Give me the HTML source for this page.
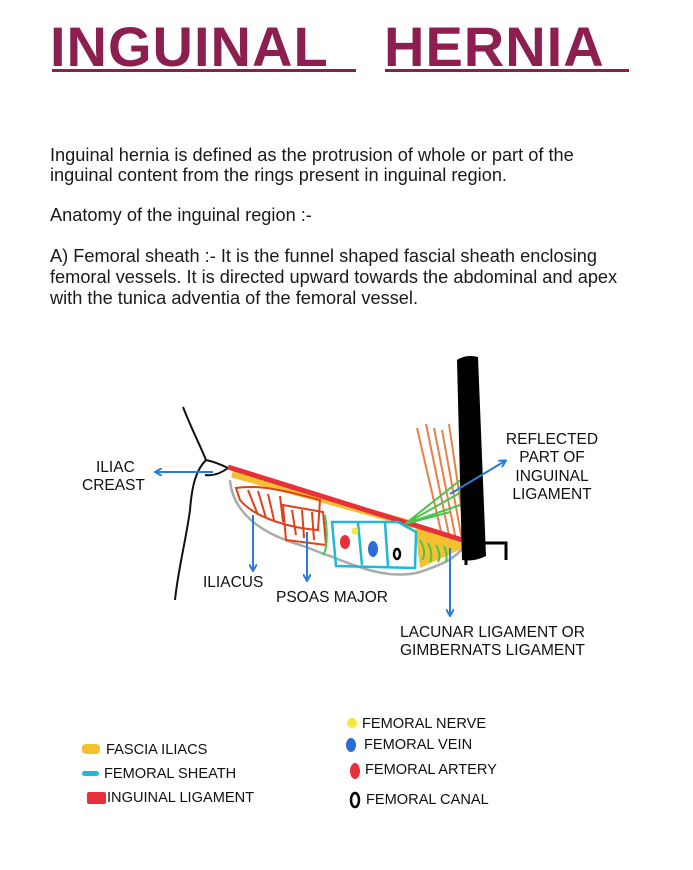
<!DOCTYPE html>
<html><head><meta charset="utf-8"><style>
body{margin:0;width:693px;height:870px;background:#fff;position:relative;font-family:"Liberation Sans",sans-serif;overflow:hidden}
.t{position:absolute;color:#111;white-space:nowrap}
.title{position:absolute;top:14px;font-weight:bold;font-size:56px;color:#8c1f4f;letter-spacing:1px}
.ul{position:absolute;top:69px;height:3px;background:#8c1f4f}
.p{font-size:18.2px;color:#1a1a1a;left:50px}
.s{font-size:15.5px}
.l{font-size:14.6px}
</style></head><body>
<div class="title" style="left:50px">INGUINAL</div>
<div class="title" style="left:384px">HERNIA</div>
<div class="ul" style="left:52px;width:304px"></div>
<div class="ul" style="left:385px;width:244px"></div>

<div class="t p" style="top:145px">Inguinal hernia is defined as the protrusion of whole or part of the</div>
<div class="t p" style="top:165px">inguinal content from the rings present in inguinal region.</div>
<div class="t p" style="top:205px">Anatomy of the inguinal region :-</div>
<div class="t p" style="top:246px">A) Femoral sheath :- It is the funnel shaped fascial sheath enclosing</div>
<div class="t p" style="top:267px">femoral vessels. It is directed upward towards the abdominal and apex</div>
<div class="t p" style="top:288px">with the tunica adventia of the femoral vessel.</div>

<svg style="position:absolute;left:0;top:0" width="693" height="870">
<defs><marker id="a" markerWidth="8" markerHeight="8" refX="6" refY="4" orient="auto" markerUnits="userSpaceOnUse"><path d="M0,0 L7,4 L0,8" fill="none" stroke="#2b7bd6" stroke-width="2"/></marker></defs>
<path d="M183,407 C192,430 200,445 206,460 C196,470 192,485 190,510 C186,540 178,570 175,600" fill="none" stroke="#111" stroke-width="2"/>
<path d="M206,460 C215,462 222,465 228,468 C220,474 212,476 205,475" fill="none" stroke="#111" stroke-width="2"/>
<g stroke="#e8804a" stroke-width="2">
<line x1="417" y1="428" x2="443" y2="540"/><line x1="426" y1="424" x2="450" y2="540"/><line x1="434" y1="428" x2="456" y2="540"/><line x1="442" y1="430" x2="462" y2="540"/><line x1="449" y1="424" x2="466" y2="540"/></g>
<path d="M230,480 C232,505 250,530 300,545 C315,550 320,553 330,556 C360,568 390,580 420,572 C440,565 455,560 465,545" fill="none" stroke="#aaa" stroke-width="2.5"/>
<path d="M230,470 L470,545 L420,568 L415,527 Z" fill="#f4c030"/>
<path d="M232,474 L415,525" stroke="#f4c030" stroke-width="7"/>
<line x1="228" y1="467" x2="472" y2="543" stroke="#e8303a" stroke-width="5"/>
<g fill="none" stroke="#e0401a" stroke-width="2">
<path d="M236,488 C260,484 290,492 320,500 L318,530 C290,528 255,518 240,500 Z"/>
<path d="M283,505 L323,512 L326,545 L286,540 Z"/>
<path d="M248,490 L258,515 M258,491 L266,518 M268,494 L274,520 M280,496 L283,522 M292,510 L296,535 M302,510 L304,538 M312,512 L314,540"/></g>
<g fill="none" stroke="#1fb8d8" stroke-width="2.5">
<path d="M332,522 L398,522 L416,532 L415,568 L336,566 Z"/>
<line x1="358" y1="523" x2="362" y2="565"/><line x1="385" y1="523" x2="388" y2="566"/></g>
<ellipse cx="345" cy="542" rx="5" ry="7" fill="#e8303a"/>
<circle cx="355" cy="531" r="3.5" fill="#f5e83a"/>
<ellipse cx="373" cy="549" rx="5" ry="8" fill="#2b6cd6"/>
<ellipse cx="397" cy="554" rx="3" ry="5" fill="none" stroke="#000" stroke-width="2.5"/>
<g fill="none" stroke="#4cc44c" stroke-width="2">
<path d="M405,524 L463,478 M405,524 L465,490 M405,524 L466,503 M405,524 L450,512"/>
<path d="M325,515 C328,535 327,550 323,555"/>
<path d="M420,540 C425,548 425,556 422,560 M428,543 C432,550 432,558 430,562 M436,545 C440,552 440,558 438,562 M444,546 C447,552 447,558 446,562"/></g>
<path d="M457,360 Q466,354 478,357 L486,556 Q474,562 462,560 Z" fill="#000"/>
<path d="M484,543 L506,543 L506,560" fill="none" stroke="#000" stroke-width="3"/>
<line x1="466" y1="550" x2="466" y2="565" stroke="#000" stroke-width="3"/>
<g stroke="#2b7bd6" stroke-width="2" fill="none">
<line x1="213" y1="472" x2="156" y2="472" marker-end="url(#a)"/>
<line x1="450" y1="494" x2="505" y2="461" marker-end="url(#a)"/>
<line x1="253" y1="515" x2="253" y2="570" marker-end="url(#a)"/>
<line x1="307" y1="532" x2="307" y2="580" marker-end="url(#a)"/>
<line x1="450" y1="548" x2="450" y2="615" marker-end="url(#a)"/>
</g>
<rect x="82" y="744" width="18" height="10" rx="4" fill="#f4c030"/>
<rect x="82" y="771" width="17" height="5" rx="2.5" fill="#1fb8d8"/>
<rect x="87" y="792" width="19" height="12" rx="2" fill="#e8303a"/>
<circle cx="352" cy="723" r="5" fill="#f5e83a"/>
<ellipse cx="351" cy="745" rx="5" ry="7" fill="#2b6cd6"/>
<ellipse cx="355" cy="771" rx="5" ry="8" fill="#e8303a"/>
<ellipse cx="355" cy="800" rx="4" ry="7" fill="none" stroke="#000" stroke-width="2.5"/>
</svg>

<div class="t s" style="left:96px;top:459px">ILIAC</div>
<div class="t s" style="left:82px;top:477px">CREAST</div>
<div class="t s" style="left:500px;top:431px;width:104px;text-align:center">REFLECTED</div>
<div class="t s" style="left:500px;top:449px;width:104px;text-align:center">PART OF</div>
<div class="t s" style="left:500px;top:468px;width:104px;text-align:center">INGUINAL</div>
<div class="t s" style="left:500px;top:486px;width:104px;text-align:center">LIGAMENT</div>
<div class="t s" style="left:203px;top:574px">ILIACUS</div>
<div class="t s" style="left:276px;top:589px">PSOAS MAJOR</div>
<div class="t s" style="left:400px;top:624px">LACUNAR LIGAMENT OR</div>
<div class="t s" style="left:400px;top:642px">GIMBERNATS LIGAMENT</div>

<div class="t l" style="left:106px;top:742px">FASCIA ILIACS</div>
<div class="t l" style="left:104px;top:766px">FEMORAL SHEATH</div>
<div class="t l" style="left:107px;top:790px">INGUINAL LIGAMENT</div>
<div class="t l" style="left:362px;top:716px">FEMORAL NERVE</div>
<div class="t l" style="left:364px;top:737px">FEMORAL VEIN</div>
<div class="t l" style="left:365px;top:762px">FEMORAL ARTERY</div>
<div class="t l" style="left:366px;top:792px">FEMORAL CANAL</div>
</body></html>
